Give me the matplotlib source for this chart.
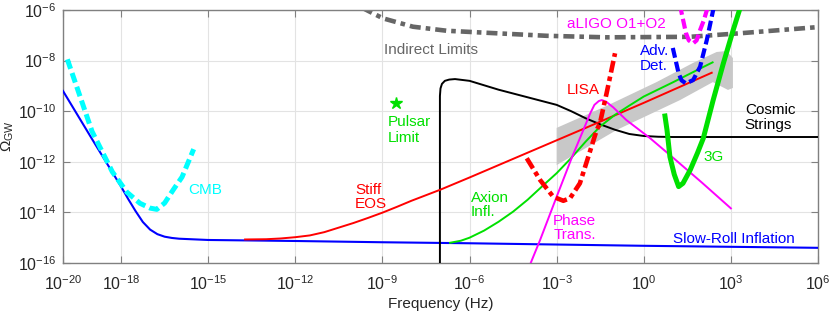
import numpy as np
import matplotlib
matplotlib.use('Agg')
import matplotlib.pyplot as plt

plt.rcParams['font.family'] = ['Liberation Sans', 'DejaVu Sans']
plt.rcParams['mathtext.fontset'] = 'custom'
plt.rcParams['mathtext.rm'] = 'Liberation Sans'
plt.rcParams['mathtext.it'] = 'Liberation Sans:italic'
plt.rcParams['mathtext.bf'] = 'Liberation Sans:bold'

# log10 values: (frequency in Hz, Omega_GW)
slowroll_lf = [-20, -19, -18, -17.75, -17.5, -17.25, -17.0, -16.75, -16.5, -16.25, -16.0, -15, -12, -9, -6, -3,
               0, 3, 6]
slowroll_lo = [-9.2, -11.1, -12.98, -13.48, -13.95, -14.38, -14.68, -14.86, -14.96, -15.01, -15.04, -15.09,
               -15.13, -15.18, -15.22, -15.27, -15.32, -15.36, -15.4]

cmb_lf = [-19.85, -19.0, -18.3, -17.8, -17.35, -17.0, -16.77, -16.5, -16.2, -15.9, -15.5]
cmb_lo = [-7.95, -10.8, -12.4, -13.2, -13.64, -13.83, -13.88, -13.63, -13.1, -12.6, -11.5]

indirect_lf = [-9.7, -9.43, -8.98, -7.95, -6.79, -5.07, -3.34, -1.28, 1.59, 3.31, 5.95, 6.2]
indirect_lo = [-5.91, -6.07, -6.33, -6.66, -6.82, -6.92, -7.02, -7.08, -7.06, -6.92, -6.68, -6.65]

strings_lf = [-7.02, -7.02, -7.0, -6.95, -6.85, -6.7, -6.5, -6.0, -5.0, -4.0, -3.0, -2.5, -2.0, -1.5, -1.0,
              -0.5, 0.0, 0.5, 1.0, 6]
strings_lo = [-16.5, -9.4, -9.1, -8.92, -8.8, -8.75, -8.73, -8.8, -9.15, -9.45, -9.75, -10.0, -10.28, -10.52,
              -10.73, -10.9, -10.98, -11.01, -11.02, -11.02]

stiff_lf = [-13.73, -13, -12.5, -12, -11.5, -11, -10.5, -10, -9.5, -9, -8.5, -8, -7, -6, -5, -4, -2, 0, 2.34]
stiff_lo = [-15.07, -15.06, -15.03, -14.98, -14.91, -14.78, -14.6, -14.42, -14.22, -14.01, -13.78, -13.54,
            -13.1, -12.62, -12.13, -11.64, -10.66, -9.67, -8.48]

axion_lf = [-6.67, -6.3, -6.0, -5.5, -5.0, -4.5, -4.0, -3.5, -3.0, -2.5, -2.0, -1.5, -1.0, -0.5, 0.0, 0.5,
            1.0, 1.5, 2.0, 2.37]
axion_lo = [-15.2, -15.12, -15.0, -14.72, -14.37, -13.97, -13.5, -12.97, -12.45, -11.85, -11.2, -10.6,
            -10.15, -9.78, -9.42, -9.14, -8.86, -8.57, -8.28, -8.07]

lisa_lf = [-4.03, -3.57, -3.12, -2.77, -2.54, -2.2, -1.91, -1.62, -1.51, -1.28, -0.99]
lisa_lo = [-11.86, -12.72, -13.38, -13.54, -13.44, -12.85, -11.80, -10.74, -10.48, -9.29, -7.71]

phase_lf = [-4.0, -3.57, -3.0, -2.5, -2.08, -1.85, -1.7, -1.55, -1.45, -1.3, -1.05, -0.6, 0.2, 1.0, 2.0, 3.0]
phase_lo = [-16.3, -15.09, -13.38, -11.9, -10.74, -10.1, -9.75, -9.6, -9.56, -9.62, -9.85, -10.35, -11.05,
            -11.83, -12.82, -13.84]

g3_lf = [0.73, 0.8, 0.9, 1.05, 1.2, 1.35, 1.6, 1.85, 2.05, 2.39, 2.74, 3.08, 3.35]
g3_lo = [-10.19, -10.74, -11.8, -12.5, -12.98, -12.85, -12.32, -11.65, -11.07, -9.56, -8.11, -6.79, -5.8]

advdet_lf = [1.0, 1.1, 1.2, 1.3, 1.45, 1.7, 1.94, 2.17, 2.39, 2.5]
advdet_lo = [-7.5, -8.0, -8.5, -8.78, -8.9, -8.77, -8.24, -7.19, -6.0, -5.6]

aligo_lf = [1.25, 1.3, 1.45, 1.55, 1.7, 1.82, 1.94, 2.07, 2.2]
aligo_lo = [-5.8, -6.1, -6.9, -7.2, -7.32, -7.2, -6.79, -6.4, -5.9]

band_lf = [-3.0, -1.28, 0.44, 1.70, 2.51, 2.85, 3.07, 3.07, 2.90, 2.38, 1.25, -0.93, -3.0]
band_lo = [-10.66, -9.79, -8.85, -8.09, -7.66, -7.62, -7.90, -9.08, -9.16, -8.85, -9.56, -10.74, -12.13]

pulsar_lf, pulsar_lo = -8.54, -9.66

xtick_exp = [-20, -18, -15, -12, -9, -6, -3, 0, 3, 6]
ytick_exp = [-16, -14, -12, -10, -8, -6]


def p(lf, lo):
    return 10.0 ** np.array(lf), 10.0 ** np.array(lo)


green = '#00e000'
fig = plt.figure(figsize=(8.3, 3.12), dpi=100)
ax = fig.add_axes([63 / 830, 49 / 312, 755 / 830, 253 / 312])

ax.fill(*p(band_lf, band_lo), color='#c8c8c8', lw=0, zorder=1)
ax.plot(*p(indirect_lf, indirect_lo), color='#666666', lw=3.3, ls=(0, (2.4, 1.1, 1.0, 1.1)), zorder=2)
ax.plot(*p(slowroll_lf, slowroll_lo), color='#0000ff', lw=1.5, zorder=3)
ax.plot(*p(cmb_lf, cmb_lo), color='#00ffff', lw=3.6, ls=(0, (2.0, 0.9)), zorder=3)
ax.plot(*p(strings_lf, strings_lo), color='black', lw=1.4, zorder=3)
ax.plot(*p(stiff_lf, stiff_lo), color='#ff0000', lw=1.4, zorder=3)
ax.plot(*p(axion_lf, axion_lo), color=green, lw=1.4, zorder=3)
ax.plot(*p(phase_lf, phase_lo), color='#ff00ff', lw=1.4, zorder=3)
ax.plot(*p(lisa_lf, lisa_lo), color='#ff0000', lw=3.3, ls=(0, (2.6, 0.9, 1.0, 0.9)), zorder=4)
ax.plot(*p(g3_lf, g3_lo), color=green, lw=3.6, zorder=4)
ax.plot(*p(advdet_lf, advdet_lo), color='#0000ff', lw=3.0, ls=(0, (2.4, 1.0)), zorder=4)
ax.plot(*p(aligo_lf, aligo_lo), color='#ff00ff', lw=3.0, ls=(0, (2.4, 1.0)), zorder=4)
ax.plot(10.0 ** pulsar_lf, 10.0 ** pulsar_lo, marker='*', color=green, ms=9, ls='none', zorder=4)

ax.set_xscale('log')
ax.set_yscale('log')
ax.set_xlim(1e-20, 1e6)
ax.set_ylim(1e-16, 1e-6)
ax.set_xticks([10.0 ** e for e in xtick_exp])
ax.set_xticklabels([f'$10^{{{e}}}$' for e in xtick_exp])
ax.set_yticks([10.0 ** e for e in ytick_exp])
ax.set_yticklabels([f'$10^{{{e}}}$' for e in ytick_exp])
ax.minorticks_off()
ax.tick_params(direction='in', top=True, right=True, length=5, width=0.8, color='#808080',
               labelcolor='#262626', labelsize=11.5, pad=5)
ax.tick_params(axis='x', pad=8)
for s in ax.spines.values():
    s.set_color('#808080')
    s.set_linewidth(1.0)
ax.grid(True, color='#e3e3e3', lw=0.8, zorder=0)
ax.set_axisbelow(True)
ax.set_xlabel('Frequency (Hz)', fontsize=11, color='#262626', labelpad=3)
ax.set_ylabel(r'$\Omega_{\mathrm{GW}}$', fontsize=11, color='#262626')
ax.yaxis.set_label_coords(-0.062, 0.5)

# curve labels
kw = dict(fontsize=11, va='center_baseline', ha='left')
ax.text(10 ** -7.33, 10 ** -7.54, 'Indirect Limits', color='#666666', fontsize=11, va='center_baseline', ha='center')
ax.text(10 ** -15.7, 10 ** -13.04, 'CMB', color='#00ffff', **kw)
ax.text(10 ** -9.94, 10 ** -13.04, 'Stiff', color='#ff0000', **kw)
ax.text(10 ** -9.94, 10 ** -13.59, 'EOS', color='#ff0000', **kw)
ax.text(10 ** -5.95, 10 ** -13.38, 'Axion', color=green, **kw)
ax.text(10 ** -5.95, 10 ** -13.91, 'Infl.', color=green, **kw)
ax.text(10 ** -3.12, 10 ** -14.30, 'Phase', color='#ff00ff', **kw)
ax.text(10 ** -3.12, 10 ** -14.85, 'Trans.', color='#ff00ff', **kw)
ax.text(10 ** 1.02, 10 ** -14.98, 'Slow-Roll Inflation', color='#0000ff', **kw)
ax.text(10 ** 2.05, 10 ** -11.77, '3G', color=green, **kw)
ax.text(10 ** 3.48, 10 ** -9.89, 'Cosmic', color='black', **kw)
ax.text(10 ** 3.48, 10 ** -10.48, 'Strings', color='black', **kw)
ax.text(10 ** -2.66, 10 ** -9.09, 'LISA', color='#ff0000', **kw)
ax.text(10 ** -0.13, 10 ** -7.58, 'Adv.', color='#0000ff', **kw)
ax.text(10 ** -0.13, 10 ** -8.17, 'Det.', color='#0000ff', **kw)
ax.text(10 ** -2.66, 10 ** -6.5, 'aLIGO O1+O2', color='#ff00ff', **kw)
ax.text(10 ** -8.8, 10 ** -10.38, 'Pulsar', color=green, **kw)
ax.text(10 ** -8.8, 10 ** -11.01, 'Limit', color=green, **kw)

fig.savefig('out.png', dpi=100)
